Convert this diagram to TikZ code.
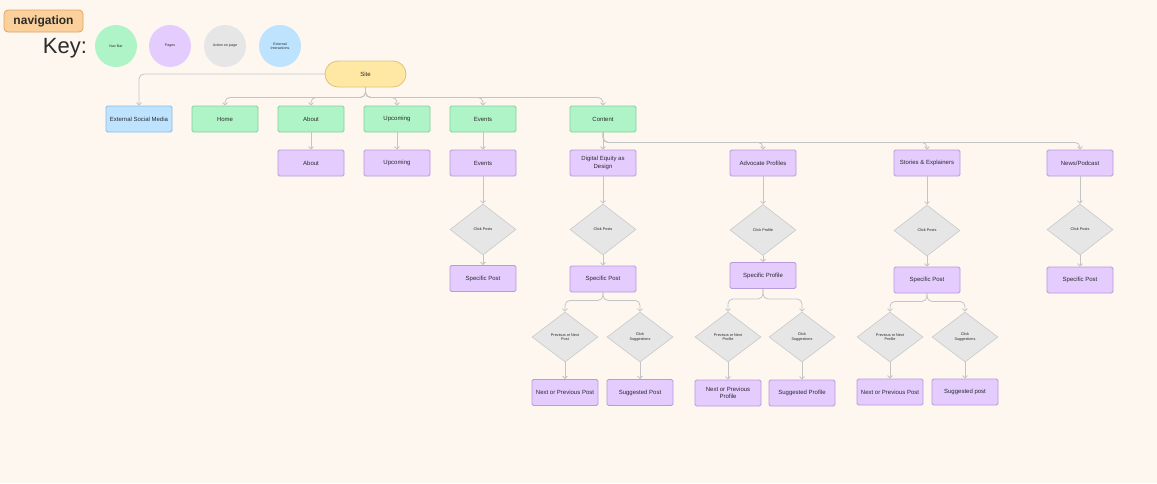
\documentclass[tikz,border=0pt]{standalone}
\usepackage{fontspec}
\setmainfont{Liberation Sans}
\usetikzlibrary{shapes.geometric,arrows.meta}
\definecolor{bgc}{HTML}{FEF7F0}
\definecolor{txt}{HTML}{2B2B2B}
\definecolor{navfill}{HTML}{AFF4C6}
\definecolor{navdraw}{HTML}{86CFA0}
\definecolor{pagefill}{HTML}{E4CCFF}
\definecolor{pagedraw}{HTML}{B89BD8}
\definecolor{extfill}{HTML}{BDE3FF}
\definecolor{extdraw}{HTML}{8DB9DD}
\definecolor{actfill}{HTML}{E6E6E6}
\definecolor{actdraw}{HTML}{C9C9C9}
\definecolor{sitefill}{HTML}{FFE8A3}
\definecolor{sitedraw}{HTML}{DDC27C}
\definecolor{tagfill}{HTML}{FBD09A}
\definecolor{tagdraw}{HTML}{D9A76C}
\definecolor{conncol}{HTML}{C4C4C4}
\begin{document}
\begin{tikzpicture}[x=1pt,y=-1pt,
  box/.style={rectangle, rounded corners=1.5pt, line width=0.8pt, minimum width=66pt, minimum height=26pt, inner sep=1pt, align=center, font=\fontsize{6}{7.2}\selectfont, text=txt},
  navbox/.style={box, fill=navfill, draw=navdraw},
  pagebox/.style={box, fill=pagefill, draw=pagedraw},
  extbox/.style={box, fill=extfill, draw=extdraw},
  actbox/.style={diamond, draw=actdraw, fill=actfill, line width=0.6pt, minimum width=66pt, minimum height=51pt, inner sep=0pt, align=center, font=\fontsize{3.8}{4.6}\selectfont, text=txt},
  keydot/.style={circle, minimum size=42pt, inner sep=0pt, align=center, font=\fontsize{3.6}{4.4}\selectfont, text=txt},
  conn/.style={draw=conncol, line width=0.8pt, rounded corners=5pt, -{Straight Barb[length=2.5pt,width=5pt]}}
]
\useasboundingbox (0,0) rectangle (1157,483);
\fill[bgc] (0,0) rectangle (1157,483);

% title and key
\node[rectangle, rounded corners=4pt, fill=tagfill, draw=tagdraw, line width=0.8pt, minimum width=79pt, minimum height=22pt, inner sep=1pt, font=\bfseries\fontsize{12}{14}\selectfont, text=txt] (tag) at (43.5,21) {navigation};
\node[font=\fontsize{22}{24}\selectfont, text=txt, inner sep=0pt] (key) at (65,48) {Key:};
\node[keydot, fill=navfill] (k1) at (116,46) {Nav Bar};
\node[keydot, fill=pagefill] (k2) at (170,46) {Pages};
\node[keydot, fill=actfill] (k3) at (225,46) {Action on page};
\node[keydot, fill=extfill] (k4) at (280,46) {External\\Interactions};

% site
\node[rectangle, rounded corners=13pt, fill=sitefill, draw=sitedraw, line width=0.8pt, minimum width=81pt, minimum height=26pt, inner sep=1pt, font=\fontsize{6}{7.2}\selectfont, text=txt] (site) at (365.5,74) {Site};

% nav row
\node[extbox] (esm) at (139,119) {External Social Media};
\node[navbox] (home) at (225,119) {Home};
\node[navbox] (about) at (311,119) {About};
\node[navbox] (upc) at (397,119) {Upcoming};
\node[navbox] (events) at (483,119) {Events};
\node[navbox] (content) at (603,119) {Content};

% page row
\node[pagebox] (aboutp) at (311,163) {About};
\node[pagebox] (upcp) at (397,163) {Upcoming};
\node[pagebox] (eventsp) at (483,163) {Events};
\node[pagebox] (dig) at (603,163) {Digital Equity as\\Design};
\node[pagebox] (adv) at (763,163) {Advocate Profiles};
\node[pagebox] (sto) at (927,163) {Stories \& Explainers};
\node[pagebox] (news) at (1080,163) {News/Podcast};

% first diamonds
\node[actbox] (d1) at (483,229.5) {Click Posts};
\node[actbox] (d2) at (603,229.5) {Click Posts};
\node[actbox] (d3) at (763,230) {Click Profile};
\node[actbox] (d4) at (927,230.5) {Click Posts};
\node[actbox] (d5) at (1080,229.5) {Click Posts};

% specific
\node[pagebox] (sp1) at (483,278.5) {Specific Post};
\node[pagebox] (sp2) at (603,279) {Specific Post};
\node[pagebox] (sp3) at (763,275.5) {Specific Profile};
\node[pagebox] (sp4) at (927,280) {Specific Post};
\node[pagebox] (sp5) at (1080,280) {Specific Post};

% second diamonds
\node[actbox, minimum height=50pt] (e1) at (565,337) {Previous or Next\\Post};
\node[actbox, minimum height=50pt] (e2) at (640,337) {Click\\Suggestions};
\node[actbox, minimum height=50pt] (e3) at (728,337) {Previous or Next\\Profile};
\node[actbox, minimum height=50pt] (e4) at (802,337) {Click\\Suggestions};
\node[actbox, minimum height=50pt] (e5) at (890,337) {Previous or Next\\Profile};
\node[actbox, minimum height=50pt] (e6) at (965,337) {Click\\Suggestions};

% final boxes
\node[pagebox] (f1) at (565,392.5) {Next or Previous Post};
\node[pagebox] (f2) at (640,392.5) {Suggested Post};
\node[pagebox] (f3) at (728,393) {Next or Previous\\Profile};
\node[pagebox] (f4) at (802,393) {Suggested Profile};
\node[pagebox] (f5) at (890,392) {Next or Previous Post};
\node[pagebox] (f6) at (965,392) {Suggested post};

% connectors
\draw[conn] (site.west) -| (esm.north);
\foreach \n in {home,about,upc,events,content}
  \draw[conn] (site.south) -- ++(0,10) -| (\n.north);
\draw[conn] (about.south) -- (aboutp.north);
\draw[conn] (upc.south) -- (upcp.north);
\draw[conn] (events.south) -- (eventsp.north);
\draw[conn] (content.south) -- (dig.north);
\foreach \n in {adv,sto,news}
  \draw[conn] (content.south) -- ++(0,10) -| (\n.north);

\draw[conn] (eventsp.south) -- (d1.north);
\draw[conn] (dig.south) -- (d2.north);
\draw[conn] (adv.south) -- (d3.north);
\draw[conn] (sto.south) -- (d4.north);
\draw[conn] (news.south) -- (d5.north);

\draw[conn] (d1.south) -- (sp1.north);
\draw[conn] (d2.south) -- (sp2.north);
\draw[conn] (d3.south) -- (sp3.north);
\draw[conn] (d4.south) -- (sp4.north);
\draw[conn] (d5.south) -- (sp5.north);

\draw[conn] (sp2.south) -- ++(0,8) -| (e1.north);
\draw[conn] (sp2.south) -- ++(0,8) -| (e2.north);
\draw[conn] (sp3.south) -- ++(0,10) -| (e3.north);
\draw[conn] (sp3.south) -- ++(0,10) -| (e4.north);
\draw[conn] (sp4.south) -- ++(0,8) -| (e5.north);
\draw[conn] (sp4.south) -- ++(0,8) -| (e6.north);

\draw[conn] (e1.south) -- (f1.north);
\draw[conn] (e2.south) -- (f2.north);
\draw[conn] (e3.south) -- (f3.north);
\draw[conn] (e4.south) -- (f4.north);
\draw[conn] (e5.south) -- (f5.north);
\draw[conn] (e6.south) -- (f6.north);
\end{tikzpicture}
\end{document}
